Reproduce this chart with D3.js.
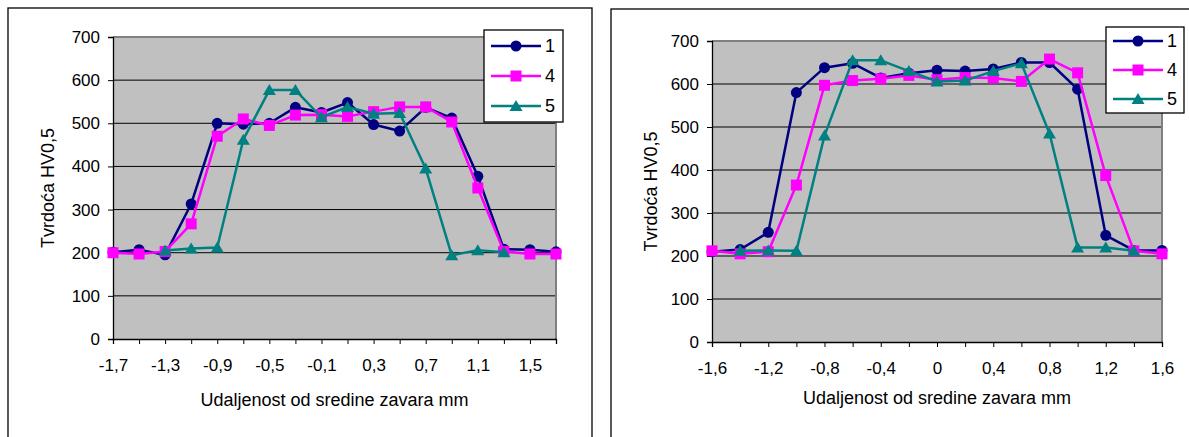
<!DOCTYPE html>
<html><head><meta charset="utf-8">
<script src="https://cdn.jsdelivr.net/npm/d3@7"></script>
<style>
body{margin:0;background:#fff}
svg{display:block;font-family:"Liberation Sans",Arial,sans-serif}
</style>
</head><body>
<svg id="c" width="1189" height="437"></svg>
<script>
// ---------- data ----------
const seriesNames = ["1", "4", "5"];
const seriesColors = ["#000080", "#FF00FF", "#008080"];
const seriesMarkers = ["circle", "square", "triangle"];

const leftX  = [-1.7,-1.5,-1.3,-1.1,-0.9,-0.7,-0.5,-0.3,-0.1,0.1,0.3,0.5,0.7,0.9,1.1,1.3,1.5,1.7];
const leftS1 = [201,207,195,313,500,498,500,537,525,548,497,482,537,512,377,208,207,202];
const leftS4 = [200,197,203,267,470,510,495,519,520,516,527,538,538,503,350,203,197,197];
const leftS5 = [null,null,205,210,212,462,577,577,514,538,522,524,395,194,206,201,null,null];
const leftTickLabels = ["-1,7","-1,3","-0,9","-0,5","-0,1","0,3","0,7","1,1","1,5"];
const leftTickValues = [-1.7,-1.3,-0.9,-0.5,-0.1,0.3,0.7,1.1,1.5];

const rightX  = [-1.6,-1.4,-1.2,-1.0,-0.8,-0.6,-0.4,-0.2,0,0.2,0.4,0.6,0.8,1.0,1.2,1.4,1.6];
const rightS1 = [210,215,255,580,638,648,614,625,632,630,635,650,650,588,248,213,213];
const rightS4 = [212,205,210,365,597,608,612,620,610,615,614,606,658,626,387,212,205];
const rightS5 = [null,212,213,212,480,655,655,630,606,608,630,648,485,220,220,212,null];
const rightTickLabels = ["-1,6","-1,2","-0,8","-0,4","0","0,4","0,8","1,2","1,6"];
const rightTickValues = [-1.6,-1.2,-0.8,-0.4,0,0.4,0.8,1.2,1.6];

const yTickValues = [0,100,200,300,400,500,600,700];
const xTitle = "Udaljenost od sredine zavara mm";
const yTitle = "Tvrdoća HV0,5";

// ---------- drawing ----------
const svg = d3.select("#c");

function markerPath(type) {
  if (type === "circle") return d3.symbol(d3.symbolCircle, Math.PI * 5.5 * 5.5)();
  if (type === "square") return "M-5.5,-5.5H5.5V5.5H-5.5Z";
  return "M0,-6L6.5,5L-6.5,5Z";
}

function drawChart(cfg) {
  const g = svg.append("g");
  // outer frame
  g.append("rect").attr("x", cfg.frame[0]).attr("y", cfg.frame[1])
    .attr("width", cfg.frame[2]).attr("height", cfg.frame[3])
    .attr("fill", "none").attr("stroke", "#000").attr("stroke-width", 1.3);

  const x = d3.scaleLinear().domain(cfg.xDomain).range([cfg.plot.left, cfg.plot.right]);
  const y = d3.scaleLinear().domain([0, 700]).range([cfg.plot.bottom, cfg.plot.top]);

  // plot area
  g.append("rect").attr("x", cfg.plot.left).attr("y", cfg.plot.top)
    .attr("width", cfg.plot.right - cfg.plot.left).attr("height", cfg.plot.bottom - cfg.plot.top)
    .attr("fill", "#C0C0C0");
  // gridlines
  g.append("g").selectAll("line").data(yTickValues.filter(v => v > 0 && v < 700)).join("line")
    .attr("x1", cfg.plot.left).attr("x2", cfg.plot.right)
    .attr("y1", d => y(d)).attr("y2", d => y(d))
    .attr("stroke", "#000").attr("stroke-width", 1);
  // plot border top/right
  g.append("path")
    .attr("d", `M${cfg.plot.left},${cfg.plot.top}H${cfg.plot.right}V${cfg.plot.bottom}`)
    .attr("fill", "none").attr("stroke", "#808080").attr("stroke-width", 2);

  // y axis
  const yAxis = d3.axisLeft(y).tickValues(yTickValues).tickSize(5).tickPadding(8).tickFormat(d3.format("d"));
  const ya = g.append("g").attr("transform", `translate(${cfg.plot.left},0)`).call(yAxis);
  ya.select(".domain").attr("stroke", "#000").attr("stroke-width", 1.3);
  ya.selectAll(".tick line").attr("stroke", "#000");
  ya.selectAll("text").attr("font-size", 17).attr("fill", "#000")
    .attr("font-family", '"Liberation Sans",Arial,sans-serif');

  // x axis: ticks at every data position, labels every 0.4
  const xAxisTicks = d3.axisBottom(x).tickValues(cfg.xs).tickSize(5).tickFormat("");
  const xa = g.append("g").attr("transform", `translate(0,${cfg.plot.bottom})`).call(xAxisTicks);
  xa.select(".domain").attr("stroke", "#000").attr("stroke-width", 1.3);
  xa.selectAll(".tick line").attr("stroke", "#000");
  const xAxisLabels = d3.axisBottom(x).tickValues(cfg.tickValues).tickSize(0).tickPadding(20)
    .tickFormat((d, i) => cfg.tickLabels[i]);
  const xl = g.append("g").attr("transform", `translate(0,${cfg.plot.bottom})`).call(xAxisLabels);
  xl.select(".domain").remove();
  xl.selectAll("text").attr("font-size", 17).attr("fill", "#000")
    .attr("font-family", '"Liberation Sans",Arial,sans-serif');

  // titles
  g.append("text").attr("x", (cfg.plot.left + cfg.plot.right) / 2).attr("y", cfg.xTitleY)
    .attr("text-anchor", "middle").attr("font-size", 18).text(xTitle);
  g.append("text")
    .attr("transform", `translate(${cfg.yTitleX},${(cfg.plot.top + cfg.plot.bottom) / 2}) rotate(-90)`)
    .attr("text-anchor", "middle").attr("dominant-baseline", "central").attr("font-size", 18).text(yTitle);

  // series
  const line = d3.line().defined(d => d[1] != null).x(d => x(d[0])).y(d => y(d[1]));
  cfg.series.forEach((vals, si) => {
    const pts = cfg.xs.map((xv, i) => [xv, vals[i]]);
    g.append("path").datum(pts).attr("d", line)
      .attr("fill", "none").attr("stroke", seriesColors[si]).attr("stroke-width", 2.5)
      .attr("stroke-linejoin", "round");
    g.append("g").selectAll("path").data(pts.filter(d => d[1] != null)).join("path")
      .attr("transform", d => `translate(${x(d[0])},${y(d[1])})`)
      .attr("d", markerPath(seriesMarkers[si]))
      .attr("fill", seriesColors[si]);
  });

  // legend
  const L = cfg.legend;
  g.append("rect").attr("x", L.x).attr("y", L.y).attr("width", L.w).attr("height", L.h)
    .attr("fill", "#fff").attr("stroke", "#000").attr("stroke-width", 1.3);
  seriesNames.forEach((name, i) => {
    const cy = L.y + L.first + i * L.step;
    g.append("line").attr("x1", L.x + 7).attr("x2", L.x + 57).attr("y1", cy).attr("y2", cy)
      .attr("stroke", seriesColors[i]).attr("stroke-width", 2.5);
    g.append("path").attr("transform", `translate(${L.x + 32},${cy})`)
      .attr("d", markerPath(seriesMarkers[i])).attr("fill", seriesColors[i]);
    g.append("text").attr("x", L.x + 61).attr("y", cy).attr("dominant-baseline", "central")
      .attr("font-size", 18).text(name);
  });
}

drawChart({
  frame: [8, 8, 584, 450],
  plot: {left: 113, right: 556, top: 37, bottom: 339},
  xDomain: [-1.7, 1.7],
  xs: leftX,
  series: [leftS1, leftS4, leftS5],
  tickValues: leftTickValues,
  tickLabels: leftTickLabels,
  xTitleY: 406,
  yTitleX: 48,
  legend: {x: 484, y: 30, w: 79, h: 92, first: 16, step: 30}
});

drawChart({
  frame: [611, 9, 600, 450],
  plot: {left: 712, right: 1162, top: 41, bottom: 342},
  xDomain: [-1.6, 1.6],
  xs: rightX,
  series: [rightS1, rightS4, rightS5],
  tickValues: rightTickValues,
  tickLabels: rightTickLabels,
  xTitleY: 404,
  yTitleX: 651,
  legend: {x: 1106, y: 27, w: 78, h: 86, first: 14, step: 29}
});
</script>
</body></html>
